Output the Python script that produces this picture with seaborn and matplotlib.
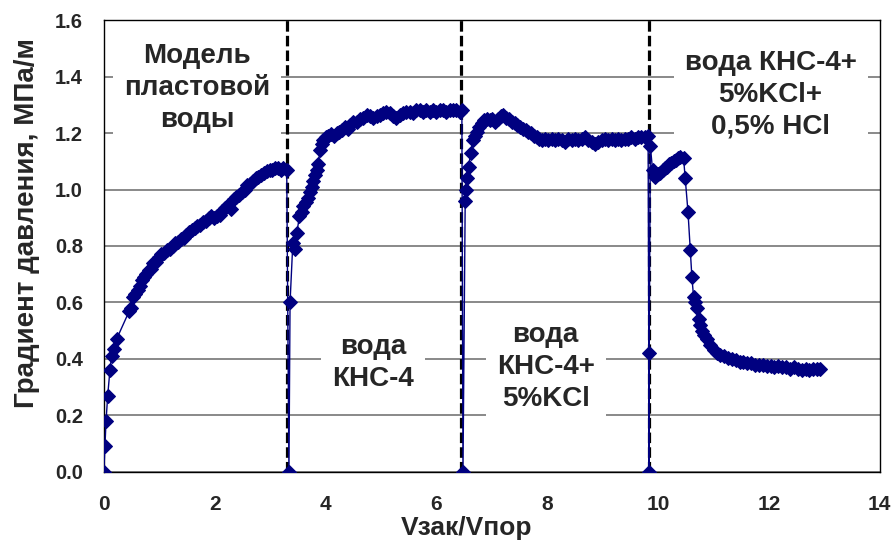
import matplotlib
matplotlib.use("Agg")
import matplotlib.pyplot as plt
import seaborn as sns
import pandas as pd

# Stage 1: formation water model
v_stage1 = [0.00, 0.02, 0.04, 0.07, 0.11, 0.14, 0.18, 0.23, 0.46, 0.49,
            0.53, 0.57, 0.61, 0.65, 0.69, 0.73, 0.77, 0.81, 0.85, 0.89,
            0.94, 0.99, 1.04, 1.09, 1.14, 1.19, 1.24, 1.29, 1.34, 1.39,
            1.44, 1.49, 1.54, 1.59, 1.64, 1.69, 1.74, 1.79, 1.84, 1.89,
            1.94, 1.99, 2.04, 2.09, 2.14, 2.19, 2.24, 2.29, 2.34, 2.39,
            2.44, 2.49, 2.54, 2.59, 2.64, 2.69, 2.74, 2.79, 2.84, 2.89,
            2.94, 2.99, 3.04, 3.09, 3.14, 3.19, 3.24, 3.30]
g_stage1 = [0.00, 0.09, 0.18, 0.27, 0.36, 0.41, 0.435, 0.47, 0.57, 0.58,
            0.62, 0.63, 0.645, 0.66, 0.68, 0.69, 0.70, 0.715, 0.72, 0.74,
            0.745, 0.76, 0.77, 0.775, 0.785, 0.79, 0.80, 0.81, 0.815, 0.825,
            0.83, 0.84, 0.85, 0.855, 0.865, 0.87, 0.875, 0.885, 0.89, 0.90,
            0.905, 0.90, 0.905, 0.91, 0.925, 0.935, 0.945, 0.93, 0.965, 0.975,
            0.98, 0.99, 1.00, 1.015, 1.02, 1.03, 1.04, 1.045, 1.05, 1.06,
            1.065, 1.07, 1.07, 1.075, 1.075, 1.07, 1.075, 1.07]

# Stage 2: water KNS-4
v_stage2 = [3.34, 3.36, 3.41, 3.45, 3.48, 3.53, 3.57, 3.60, 3.65, 3.69,
            3.72, 3.75, 3.78, 3.81, 3.84, 3.87, 3.90, 3.93, 3.96, 4.00,
            4.05, 4.10, 4.15, 4.20, 4.25, 4.30, 4.35, 4.40, 4.45, 4.50,
            4.56, 4.62, 4.68, 4.74, 4.80, 4.86, 4.92, 4.98, 5.04, 5.10,
            5.16, 5.22, 5.28, 5.34, 5.40, 5.46, 5.52, 5.58, 5.64, 5.70,
            5.76, 5.82, 5.88, 5.94, 6.00, 6.06, 6.12, 6.18, 6.24, 6.30,
            6.36, 6.42, 6.46]
g_stage2 = [0.00, 0.60, 0.81, 0.79, 0.845, 0.905, 0.92, 0.94, 0.955, 0.97,
            0.99, 1.01, 1.03, 1.05, 1.07, 1.09, 1.14, 1.16, 1.175, 1.185,
            1.19, 1.195, 1.19, 1.20, 1.205, 1.21, 1.22, 1.215, 1.23, 1.24,
            1.24, 1.25, 1.255, 1.265, 1.26, 1.255, 1.26, 1.265, 1.27, 1.275,
            1.27, 1.26, 1.255, 1.265, 1.27, 1.275, 1.275, 1.27, 1.28, 1.28,
            1.275, 1.28, 1.275, 1.28, 1.275, 1.28, 1.28, 1.275, 1.28, 1.28,
            1.28, 1.275, 1.28]

# Stage 3: water KNS-4 + 5% KCl
v_stage3 = [6.48, 6.52, 6.54, 6.56, 6.58, 6.62, 6.66, 6.70, 6.73,
            6.77, 6.82, 6.86, 6.91, 6.96, 7.01, 7.06, 7.11, 7.16, 7.21,
            7.26, 7.31, 7.36, 7.41, 7.46, 7.51, 7.56, 7.61, 7.66, 7.71,
            7.76, 7.81, 7.86, 7.91, 7.96, 8.02, 8.08, 8.14, 8.20, 8.26,
            8.32, 8.38, 8.44, 8.50, 8.56, 8.62, 8.68, 8.74, 8.80, 8.86,
            8.92, 8.98, 9.04, 9.10, 9.16, 9.22, 9.28, 9.34, 9.40, 9.46,
            9.52, 9.58, 9.64, 9.70, 9.76, 9.82]
g_stage3 = [0.00, 0.96, 1.00, 1.04, 1.08, 1.13, 1.175, 1.19, 1.205,
            1.22, 1.235, 1.245, 1.25, 1.245, 1.25, 1.24, 1.25, 1.26, 1.265,
            1.255, 1.25, 1.24, 1.235, 1.23, 1.22, 1.215, 1.21, 1.205, 1.20,
            1.19, 1.185, 1.18, 1.175, 1.18, 1.175, 1.18, 1.175, 1.18, 1.175,
            1.17, 1.18, 1.175, 1.18, 1.175, 1.18, 1.185, 1.175, 1.17, 1.16,
            1.17, 1.175, 1.18, 1.175, 1.18, 1.175, 1.18, 1.175, 1.18, 1.18,
            1.185, 1.18, 1.185, 1.185, 1.185, 1.19]

# Stage 4: water KNS-4 + 5% KCl + 0.5% HCl
v_stage4 = [9.84, 9.84, 9.86, 9.90, 9.95, 10.00, 10.04, 10.08, 10.12, 10.16,
            10.20, 10.24, 10.28, 10.32, 10.36, 10.40, 10.46, 10.49, 10.54, 10.58,
            10.61, 10.64, 10.67, 10.70, 10.73, 10.76, 10.79, 10.83, 10.88, 10.94,
            11.00, 11.06, 11.12, 11.19, 11.26, 11.33, 11.40, 11.47, 11.54, 11.61,
            11.68, 11.75, 11.82, 11.89, 11.96, 12.03, 12.10, 12.17, 12.24, 12.31,
            12.38, 12.45, 12.52, 12.59, 12.66, 12.73, 12.80, 12.87, 12.93]
g_stage4 = [0.00, 0.42, 1.155, 1.07, 1.045, 1.055, 1.06, 1.07, 1.075, 1.08,
            1.09, 1.095, 1.10, 1.105, 1.11, 1.115, 1.11, 1.04, 0.92, 0.785,
            0.69, 0.62, 0.60, 0.58, 0.54, 0.52, 0.50, 0.485, 0.47, 0.45,
            0.43, 0.42, 0.415, 0.41, 0.405, 0.40, 0.395, 0.39, 0.39, 0.385,
            0.385, 0.38, 0.38, 0.38, 0.375, 0.375, 0.37, 0.375, 0.37, 0.37,
            0.365, 0.37, 0.365, 0.36, 0.365, 0.36, 0.365, 0.365, 0.365]

stage_bounds = [3.31, 6.45, 9.83]
stage_labels = ["Модель\nпластовой\nводы", "вода\nКНС-4",
                "вода\nКНС-4+\n5%KCl", "вода КНС-4+\n5%KCl+\n0,5% HCl"]
label_pos = [(1.68, 1.36), (4.86, 0.385), (7.97, 0.37), (12.03, 1.335)]

x_ticks = [0, 2, 4, 6, 8, 10, 12, 14]
y_ticks = [0.0, 0.2, 0.4, 0.6, 0.8, 1.0, 1.2, 1.4, 1.6]


def main():
    sns.set_style("white")
    plt.rcParams["font.family"] = ["Liberation Sans", "DejaVu Sans"]
    plt.rcParams["font.weight"] = "bold"

    df = pd.DataFrame({
        "v": v_stage1 + v_stage2 + v_stage3 + v_stage4,
        "grad": g_stage1 + g_stage2 + g_stage3 + g_stage4,
    })

    fig, ax = plt.subplots(figsize=(8.95, 5.43), dpi=100)
    fig.subplots_adjust(left=0.116, right=0.983, top=0.963, bottom=0.131)

    # stage separators
    for xb in stage_bounds:
        ax.axvline(xb, color="black", lw=2.3, ls=(0, (3.3, 1.3)), zorder=2)

    sns.lineplot(data=df, x="v", y="grad", sort=False, estimator=None,
                 color="#000080", lw=1, marker="D", markersize=7,
                 markeredgecolor="#000080", ax=ax, zorder=4)

    ax.set_xlim(0, 14)
    ax.set_ylim(0, 1.6)
    ax.set_xticks(x_ticks)
    ax.set_yticks(y_ticks)
    ax.set_yticklabels([f"{t:.1f}" for t in y_ticks])
    ax.yaxis.grid(True, color="#808080", lw=1.3)
    ax.set_axisbelow(True)

    for side in ax.spines.values():
        side.set_color("black")
        side.set_linewidth(1)

    ax.tick_params(axis="both", direction="out", width=1, color="black")
    ax.tick_params(axis="y", labelsize=14.5, length=6, pad=9)
    ax.tick_params(axis="x", labelsize=15, length=5, pad=12)

    ax.set_xlabel("Vзак/Vпор", fontsize=19, fontweight="bold")
    ax.xaxis.set_label_coords(0.468, -0.098)
    ax.set_ylabel("Градиент давления, МПа/м", fontsize=20, fontweight="bold")
    ax.yaxis.set_label_coords(-0.082, 0.551)

    for txt, (tx, ty) in zip(stage_labels, label_pos):
        ax.text(tx, ty, txt, ha="center", va="center", fontsize=20,
                fontweight="bold", linespacing=1.3, zorder=3,
                bbox=dict(facecolor="white", edgecolor="none", pad=8))

    fig.savefig("out.png", dpi=100)
    plt.close(fig)


if __name__ == "__main__":
    main()
